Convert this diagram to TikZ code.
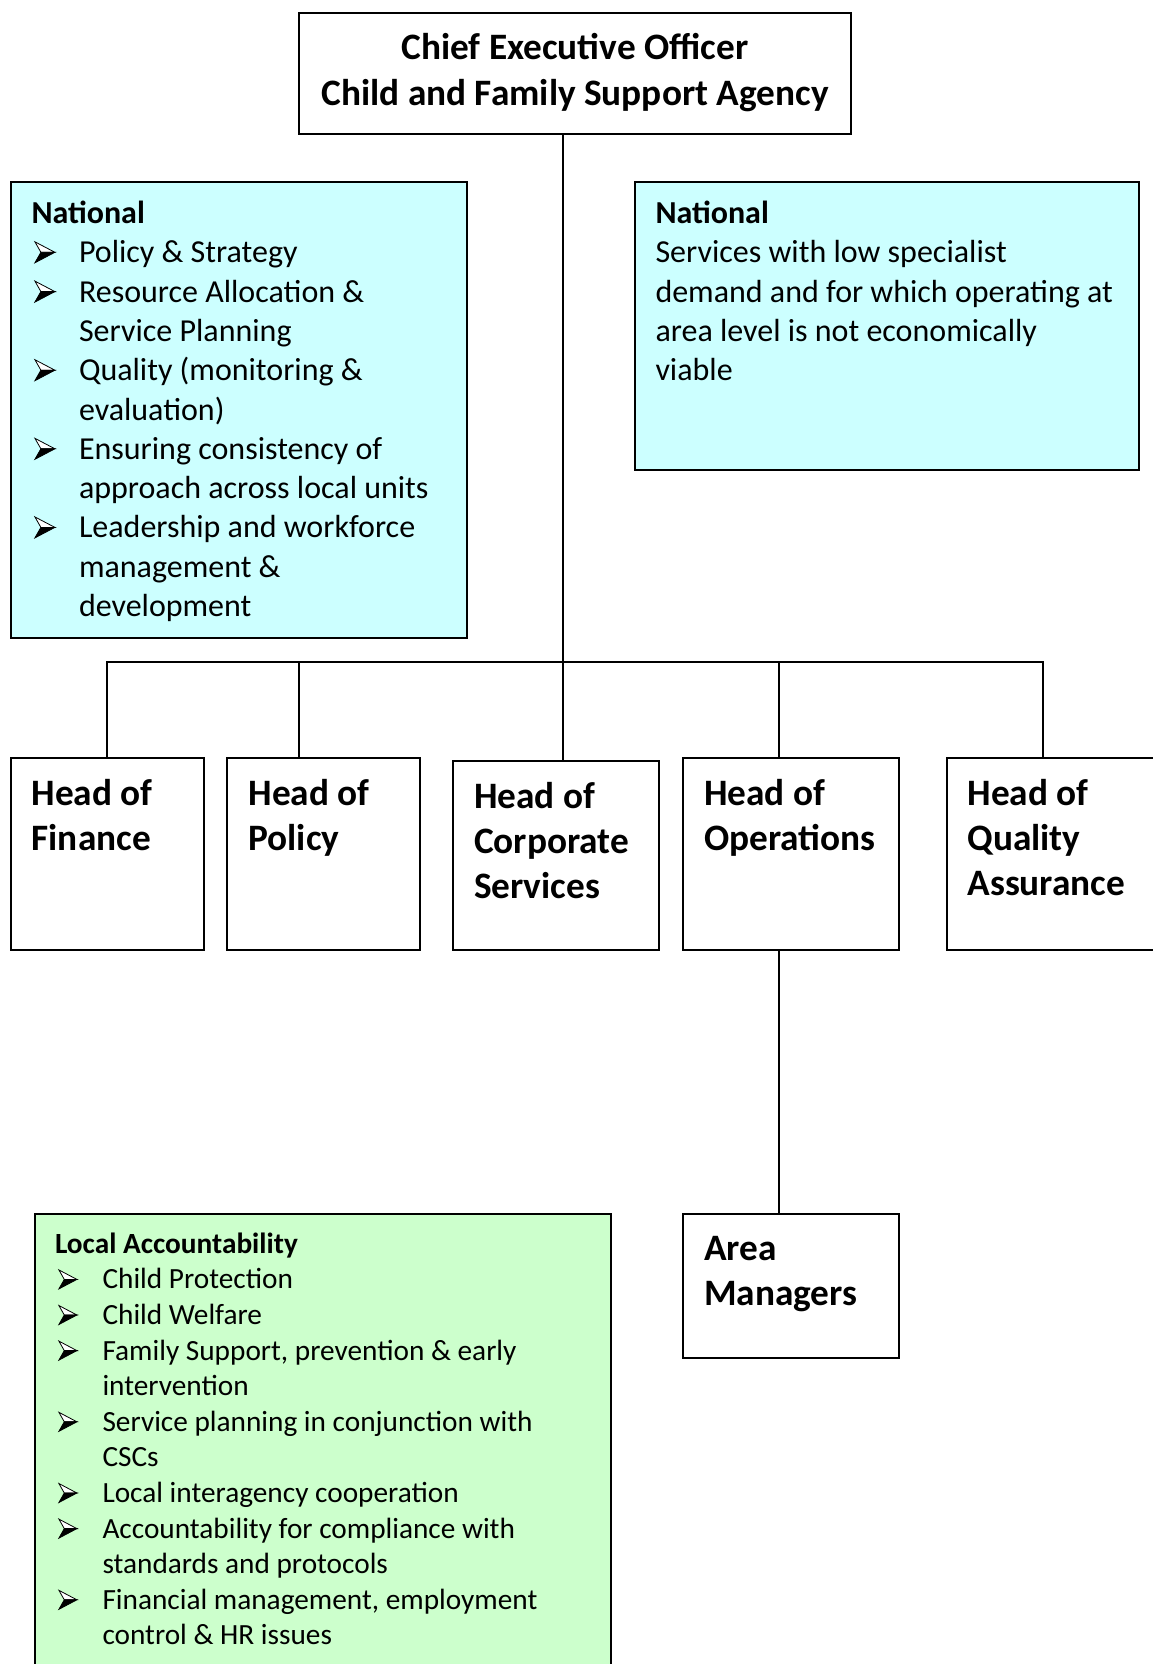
\documentclass[tikz,border=0pt]{standalone}
\usepackage{fontspec}
\setmainfont{Carlito}
\definecolor{natcyan}{HTML}{CCFFFF}
\definecolor{locgreen}{HTML}{CCFFCC}

% word spacing of the current font
\newcommand\wsp{\spaceskip=0.226em\relax\xspaceskip=\spaceskip}
% font sizes (1pt = one unit of the drawing grid)
\newcommand\headfont{\fontsize{37.3}{45}\selectfont\bfseries\wsp}
\newcommand\ceofont{\fontsize{37.3}{46.4}\selectfont\bfseries\wsp}
\newcommand\natfont{\fontsize{32}{39.3}\selectfont\wsp}
\newcommand\locfont{\fontsize{29.3}{35.6}\selectfont\wsp}

% three-dimensional arrowhead bullet: #1 width, #2 height
\newcommand\arrowbul[2]{\begin{tikzpicture}[baseline=0pt, x=#1pt, y=#2pt, line width=0.8pt, line join=miter]
  \filldraw[fill=white] (0,1) -- (1,0.5) -- (0.3,0.5) -- cycle;
  \filldraw[fill=black] (0.3,0.5) -- (1,0.5) -- (0,0) -- cycle;
\end{tikzpicture}}

% bulleted entry with hanging indent
\newlength\bind
\newcommand\bulglyph{\arrowbul{20}{21}}
\newcommand\buloff{3pt}
\newcommand\bul[1]{\par\hangindent=\bind\hangafter=1\noindent\makebox[\bind][l]{\hspace{\buloff}\bulglyph}#1}

\tikzset{
  box/.style={draw=black, line width=2pt, inner sep=0pt, outer sep=0pt, anchor=north west},
  natbox/.style={box, fill=natcyan},
  locbox/.style={box, fill=locgreen},
  txt/.style={anchor=north west, inner sep=0pt, outer sep=0pt, align=left, text width=#1},
  txt/.default=500pt,
  link/.style={line width=2pt, line cap=rect}
}

\begin{document}
\begin{tikzpicture}[x=1pt, y=-1pt]
\useasboundingbox (0,0) rectangle (1152,1664);
\fill[white] (0,0) rectangle (1152,1664);

% ---- boxes ----
\node[box, minimum width=552pt, minimum height=120.5pt] (ceo) at (299,13.5) {};
\node[natbox, minimum width=456pt, minimum height=456pt] (natL) at (11,182) {};
\node[natbox, minimum width=504pt, minimum height=288pt] (natR) at (635,182) {};
\node[box, minimum width=192.5pt, minimum height=192pt] (fin) at (11,758) {};
\node[box, minimum width=192.5pt, minimum height=192pt] (pol) at (227,758) {};
\node[box, minimum width=206.4pt, minimum height=189pt] (cor) at (452.6,761) {};
\node[box, minimum width=216pt, minimum height=192pt] (ops) at (683,758) {};
\node[box, minimum width=216pt, minimum height=192pt] (qua) at (947,758) {};
\node[box, minimum width=216pt, minimum height=144pt] (area) at (683,1214) {};
\node[locbox, minimum width=576.5pt, minimum height=470pt] (loc) at (34.5,1214) {};

% ---- connectors ----
\coordinate (busL) at (107.3,662);
\coordinate (d2) at (299,662);
\coordinate (trunk) at (563,662);
\coordinate (d4) at (779,662);
\coordinate (busR) at (1043,662);
\draw[link] (ceo.south -| trunk) -- (trunk);
\draw[link] (busL) -- (busR);
\draw[link] (busL) -- (busL |- fin.north);
\draw[link] (d2) -- (d2 |- pol.north);
\draw[link] (trunk) -- (trunk |- cor.north);
\draw[link] (d4) -- (d4 |- ops.north);
\draw[link] (busR) -- (busR |- qua.north);
\draw[link] (d4 |- ops.south) -- (d4 |- area.north);

% ---- texts ----
\node[anchor=north, inner sep=0pt, text width=540pt, align=center, font=\ceofont] (ceoT) at (575,28.8)
  {\wsp\rule{0pt}{30.6pt}Chief Executive Officer\\Child and Family Support Agency\par};

\node[txt=430pt, font=\natfont] (natLT) at (31.5,197.5) {\wsp\setlength\parindent{0pt}\setlength\bind{47.5pt}%
  \rule{0pt}{26pt}\textbf{National}
  \bul{Policy \& Strategy}
  \bul{Resource Allocation \&\newline Service Planning}
  \bul{Quality (monitoring \&\newline evaluation)}
  \bul{Ensuring consistency of\newline approach across local units}
  \bul{Leadership and workforce\newline management \&\newline development}\par};

\node[txt=490pt, font=\natfont] (natRT) at (655.5,197.5) {\wsp\setlength\parindent{0pt}%
  \rule{0pt}{26pt}\textbf{National}\\
  Services with low specialist\\
  demand and for which operating at\\
  area level is not economically\\
  viable\par};

\node[txt, font=\headfont] (finT) at (31.7,775.1) {\wsp\rule{0pt}{30.6pt}Head of\\Finance\par};
\node[txt, font=\headfont] (polT) at (248.5,775.1) {\wsp\rule{0pt}{30.6pt}Head of\\Policy\par};
\node[txt, font=\headfont] (corT) at (474,778.2) {\wsp\rule{0pt}{30.6pt}Head of\\Corporate\\Services\par};
\node[txt, font=\headfont] (opsT) at (704,775.1) {\wsp\rule{0pt}{30.6pt}Head of\\Operations\par};
\node[txt, font=\headfont] (quaT) at (967.5,775.1) {\wsp\rule{0pt}{30.6pt}Head of\\Quality\\Assurance\par};
\node[txt, font=\headfont] (areaT) at (704,1229.9) {\wsp\rule{0pt}{30.6pt}Area\\Managers\par};

\node[txt=550pt, font=\locfont] (locT) at (55,1229.3) {\wsp\renewcommand\bulglyph{\arrowbul{18}{19}}\renewcommand\buloff{3.5pt}%
  \setlength\parindent{0pt}\setlength\bind{47.5pt}%
  \rule{0pt}{24pt}\textbf{Local Accountability}
  \bul{Child Protection}
  \bul{Child Welfare}
  \bul{Family Support, prevention \& early\newline intervention}
  \bul{Service planning in conjunction with\newline CSCs}
  \bul{Local interagency cooperation}
  \bul{Accountability for compliance with\newline standards and protocols}
  \bul{Financial management, employment\newline control \& HR issues}\par};
\end{tikzpicture}
\end{document}
